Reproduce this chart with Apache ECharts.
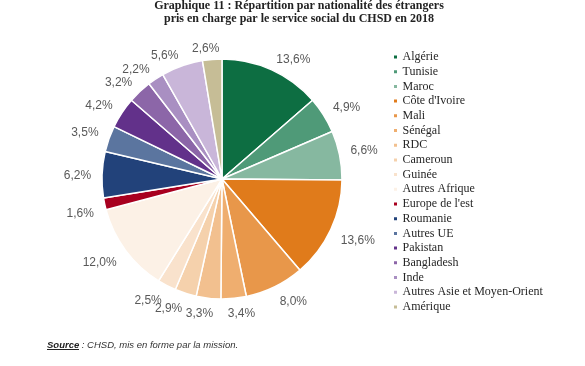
<!DOCTYPE html>
<html>
<head>
<meta charset="utf-8">
<script src="https://cdn.jsdelivr.net/npm/echarts@6/dist/echarts.min.js"></script>
<style>html,body{margin:0;padding:0;background:#fff}#c{width:585px;height:366px}</style>
</head>
<body>
<div id="c"></div>
<script>
const categories = ["Algérie","Tunisie","Maroc","Côte d'Ivoire","Mali","Sénégal","RDC","Cameroun","Guinée","Autres Afrique","Europe de l'est","Roumanie","Autres UE","Pakistan","Bangladesh","Inde","Autres Asie et Moyen-Orient","Amérique"];
const values = [13.6,4.9,6.6,13.6,8.0,3.4,3.3,2.9,2.5,12.0,1.6,6.2,3.5,4.2,3.2,2.2,5.6,2.6];
const colors = ["#0d6e42","#4f9a78","#86b8a0","#e07b1b","#e8974a","#efae6f","#f2c08f","#f5d1ac","#f9e2cc","#fcf1e6","#a8001f","#22427a","#5b759f","#62318a","#8c66a8","#a98fc2","#c9b6d9","#c6bd96"];
const titleLines = ["Graphique 11 : Répartition par nationalité des étrangers","pris en charge par le service social du CHSD en 2018"];

const CX = 222, CY = 179, R = 120, GX = 11, GY = 7, DY = 2.5;
const total = values.reduce((a,b)=>a+b,0);
const midFrac = []; let acc = 0;
values.forEach(v => { midFrac.push((acc + v/2)/total); acc += v; });
const soft = t => Math.sign(t) * Math.min(1, Math.abs(t) * 5);

const chart = echarts.init(document.getElementById('c'), null, {renderer:'canvas'});
const pieData = categories.map((n,i)=>({name:n, value:values[i], itemStyle:{color:colors[i]}}));
const fmt = p => p.value.toFixed(1).replace('.', ',') + '%';

chart.setOption({
  animation:false,
  title:{
    text: titleLines.join('\n'),
    left: 299, top: -1, textAlign:'center', padding:0,
    textStyle:{fontFamily:'Liberation Serif', fontWeight:'bold', fontSize:12, lineHeight:13, color:'#222'}
  },
  legend:{
    orient:'vertical', left:392, top:50, padding:0,
    itemWidth:5, itemHeight:5, itemGap:0.7, icon:'rect',
    data: categories,
    textStyle:{fontFamily:'Liberation Serif', fontSize:12, lineHeight:14, color:'#262626', padding:[0,0,0,-0.5]},
    selectedMode:false
  },
  series:[
    {
      type:'pie', center:[CX,CY], radius:[0,R], startAngle:90, clockwise:true,
      silent:true, avoidLabelOverlap:false,
      label:{show:true, position:'outside', formatter:fmt, fontFamily:'Liberation Sans', fontSize:12, color:'#595959'},
      labelLine:{show:false},
      labelLayout: function(p){
        const th = midFrac[p.dataIndex]*2*Math.PI;
        const sn = Math.sin(th), cs = Math.cos(th);
        const w = p.labelRect.width, h = p.labelRect.height;
        return {
          x: CX + (R+GX)*sn + soft(sn)*w/2,
          y: CY - (R+GY)*cs - soft(cs)*h/2 + DY,
          align:'center', verticalAlign:'middle', hideOverlap:false
        };
      },
      itemStyle:{borderColor:'#fff', borderWidth:1.5},
      data: pieData
    }
  ],
  graphic:[
    {type:'text', left:47, top:340, style:{
      text:'{u|Source} : CHSD, mis en forme par la mission.',
      rich:{u:{fontWeight:'bold', fontStyle:'italic', fontFamily:'Liberation Sans', fontSize:9.5, fill:'#222'}},
      fontStyle:'italic', fontFamily:'Liberation Sans', fontSize:9.5, fill:'#333'
    }},
    {type:'line', shape:{x1:47, y1:349.5, x2:79, y2:349.5}, style:{stroke:'#222', lineWidth:1}}
  ]
});
</script>
</body>
</html>
